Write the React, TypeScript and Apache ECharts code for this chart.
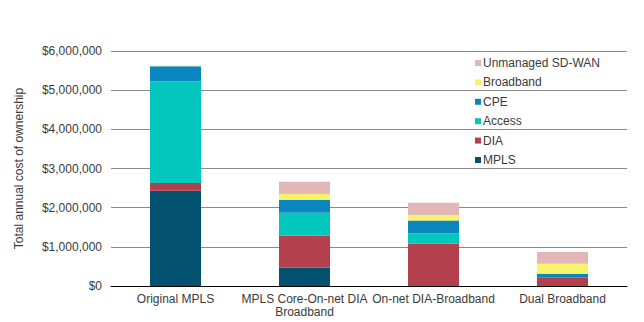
import React, { useEffect, useRef } from "react";
import * as echarts from "echarts";

const categories = [
  "Original MPLS",
  "MPLS Core-On-net DIA Broadband",
  "On-net DIA-Broadband",
  "Dual Broadband",
];
const seriesNames = ["MPLS", "DIA", "Access", "CPE", "Broadband", "Unmanaged SD-WAN"];
const mpls = [2430000, 470000, 0, 0];
const dia = [200000, 810000, 1080000, 210000];
const access = [2590000, 590000, 260000, 0];
const cpe = [390000, 330000, 330000, 100000];
const broadband = [20000, 150000, 145000, 260000];
const unmanaged = [0, 310000, 310000, 300000];
const yTicks = [0, 1000000, 2000000, 3000000, 4000000, 5000000, 6000000];
const colors = ["#02526F", "#B3404C", "#03C7BD", "#0A86BF", "#F6F36C", "#E3B6B8"];

const seriesData = [mpls, dia, access, cpe, broadband, unmanaged];

export default function App() {
  const ref = useRef<HTMLDivElement>(null);
  useEffect(() => {
    if (!ref.current) return;
    const chart = echarts.init(ref.current, null, { renderer: "svg" });
    const font = "'Liberation Sans', Arial, sans-serif";
    chart.setOption({
      animation: false,
      textStyle: { fontFamily: font },
      grid: { left: 111, right: 17, top: 51, bottom: 36, containLabel: false },
      legend: {
        orient: "vertical",
        left: 470,
        top: 51,
        itemWidth: 6,
        itemHeight: 6,
        itemGap: 5.4,
        icon: "rect",
        data: [...seriesNames].reverse(),
        textStyle: { fontSize: 12, color: "#3a3a3a", fontFamily: font, lineHeight: 14, padding: [0, 0, 0, -3] },
      },
      xAxis: {
        type: "category",
        data: categories,
        axisTick: { show: false },
        axisLine: { lineStyle: { color: "#000", width: 1 } },
        axisLabel: {
          color: "#3a3a3a",
          fontSize: 12,
          fontFamily: font,
          margin: 6,
          lineHeight: 13,
          interval: 0,
          formatter: (v: string) => {
            if (v.length > 22) {
              const i = v.lastIndexOf(" ");
              return v.slice(0, i) + "\n" + v.slice(i + 1);
            }
            return v;
          },
        },
      },
      yAxis: {
        type: "value",
        min: yTicks[0],
        max: yTicks[yTicks.length - 1],
        interval: 1000000,
        name: "Total annual cost of ownership",
        nameLocation: "middle",
        nameGap: 86,
        nameTextStyle: { color: "#3a3a3a", fontSize: 12, fontFamily: font },
        axisLine: { show: false },
        axisTick: { show: false },
        splitLine: { lineStyle: { color: "#8a8a8a", width: 1 } },
        axisLabel: {
          color: "#3a3a3a",
          fontSize: 12,
          fontFamily: font,
          margin: 9,
          formatter: (v: number) => "$" + v.toLocaleString("en-US"),
        },
      },
      series: seriesNames.map((name, i) => ({
        name,
        type: "bar",
        stack: "total",
        barWidth: 51,
        data: seriesData[i],
        itemStyle: { color: colors[i] },
      })),
    });
    return () => chart.dispose();
  }, []);
  return <div ref={ref} style={{ width: 644, height: 322, position: "absolute", left: 0, top: 0 }} />;
}
